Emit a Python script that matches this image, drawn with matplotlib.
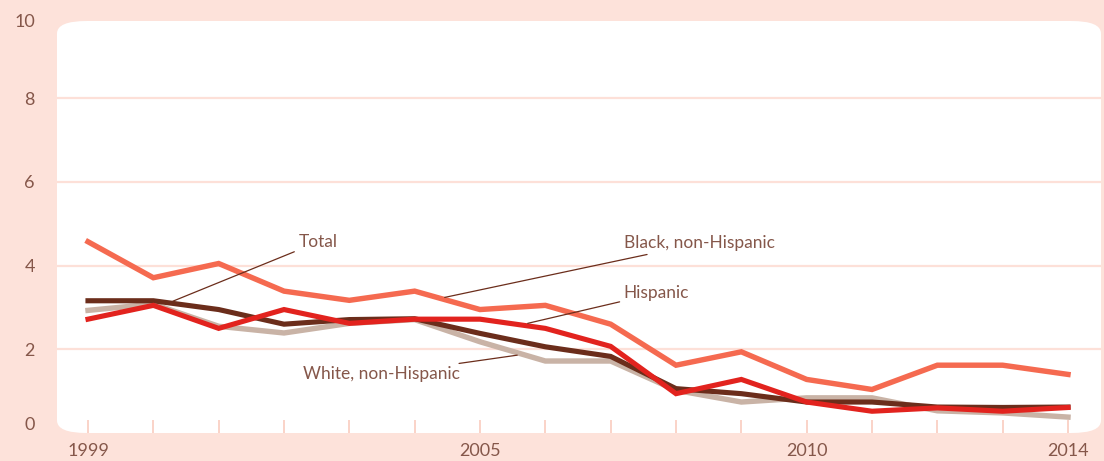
import matplotlib
matplotlib.use("Agg")
import matplotlib.pyplot as plt
from matplotlib.patches import FancyBboxPatch

## Values
years = list(range(1999, 2015))
black_nh = [4.57, 3.71, 4.05, 3.39, 3.17, 3.39, 2.95, 3.05, 2.60, 1.62, 1.94, 1.28, 1.04, 1.62, 1.62, 1.40]
total = [3.16, 3.16, 2.95, 2.60, 2.71, 2.73, 2.38, 2.06, 1.83, 1.06, 0.94, 0.74, 0.74, 0.62, 0.61, 0.62]
white_nh = [2.93, 3.08, 2.55, 2.39, 2.62, 2.71, 2.18, 1.72, 1.72, 1.02, 0.74, 0.84, 0.84, 0.53, 0.48, 0.38]
hispanic = [2.72, 3.05, 2.50, 2.95, 2.62, 2.72, 2.72, 2.50, 2.07, 0.94, 1.28, 0.74, 0.52, 0.60, 0.52, 0.61]

yticks = [0, 2, 4, 6, 8, 10]
xtick_labels = {1999: "1999", 2005: "2005", 2010: "2010", 2014: "2014"}

BG = "#fde2da"
GRID = "#fde0d8"
TICK = "#fad3c8"
TXT = "#85574a"
C_BLACK = "#f56a50"
C_TOTAL = "#6b2d1b"
C_WHITE = "#c9b3a6"
C_HISP = "#e2231e"

plt.rcParams["font.family"] = ["Lato", "DejaVu Sans"]

W, H = 1104, 461
fig = plt.figure(figsize=(W / 100, H / 100), dpi=100, facecolor=BG)

## White rounded panel behind the plot (figure fractions)
px0, px1, py_top, py_bot = 57, 1101, 21, 433
panel = FancyBboxPatch((px0 / W, 1 - py_bot / H), (px1 - px0) / W, (py_bot - py_top) / H,
                       boxstyle="round,pad=0,rounding_size=0.027",
                       transform=fig.transFigure, facecolor="white", edgecolor="none", zorder=-5)
fig.patches.append(panel)

## Axes: value 0 at y=433px, value 10 at y=14.5px
ax_bottom = 1 - 433 / H
ax_top = 1 - 14.5 / H
ax = fig.add_axes([px0 / W, ax_bottom, (px1 - px0) / W, ax_top - ax_bottom])
ax.set_facecolor("none")
ax.set_xlim(1999 - 31 / 65.33, 2014 + 33 / 65.33)
ax.set_ylim(0, 10)
for s in ax.spines.values():
    s.set_visible(False)

for v in yticks[1:-1]:
    ax.axhline(v, color=GRID, lw=1.6, zorder=1)

ax.plot(years, white_nh, color=C_WHITE, lw=3.9, zorder=3, solid_joinstyle="miter")
ax.plot(years, total, color=C_TOTAL, lw=3.7, zorder=4, solid_joinstyle="miter")
ax.plot(years, black_nh, color=C_BLACK, lw=3.9, zorder=5, solid_joinstyle="miter")
ax.plot(years, hispanic, color=C_HISP, lw=3.7, zorder=6, solid_joinstyle="miter")

## Ticks
ax.set_xticks(years)
ax.set_xticklabels([xtick_labels.get(y, "") for y in years])
ax.tick_params(axis="x", direction="in", length=9.5, width=1.4, color=TICK,
               pad=7, labelsize=13, labelcolor=TXT)
ax.set_yticks(yticks)
ax.set_yticklabels([str(v) for v in yticks])
ax.tick_params(axis="y", length=0, pad=16, labelsize=13, labelcolor=TXT)
ylabels = ax.get_yticklabels()
ylabels[0].set_va("bottom")
ylabels[-1].set_va("top")

## Leader-line labels
def label(text, xy, xytext, ha="left"):
    ax.annotate(text, xy=xy, xytext=xytext, ha=ha, va="center", fontsize=12.5, color=TXT,
                arrowprops=dict(arrowstyle="-", color=C_TOTAL, lw=0.9, shrinkA=1, shrinkB=0),
                zorder=7)

label("Total", (2000.30, 3.15), (2002.22, 4.56))
label("Black, non-Hispanic", (2004.46, 3.24), (2007.20, 4.53))
label("Hispanic", (2005.73, 2.62), (2007.20, 3.34))
label("White, non-Hispanic", (2005.57, 1.86), (2004.70, 1.40), ha="right")

fig.savefig("out.png", dpi=100, facecolor=BG)
